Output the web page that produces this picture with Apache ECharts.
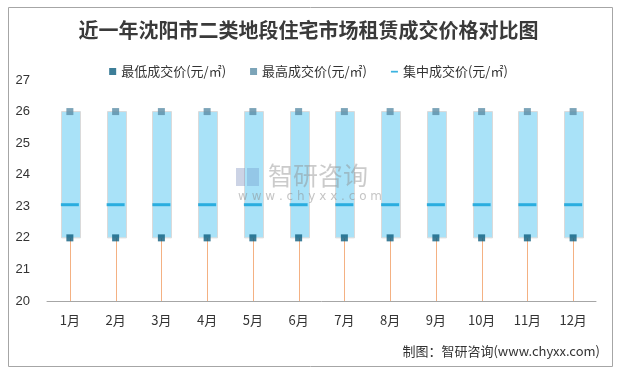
<!DOCTYPE html>
<html><head><meta charset="utf-8">
<script src="https://cdn.jsdelivr.net/npm/echarts@6/dist/echarts.min.js"></script>
<style>html,body{margin:0;padding:0;background:#fff}#c{width:617px;height:370px}</style>
</head><body><div id="c"></div>
<script>
var months = ['1月','2月','3月','4月','5月','6月','7月','8月','9月','10月','11月','12月'];
var minPrice = [22,22,22,22,22,22,22,22,22,22,22,22];
var maxPrice = [26,26,26,26,26,26,26,26,26,26,26,26];
var midPrice = [23.05,23.05,23.05,23.05,23.05,23.05,23.05,23.05,23.05,23.05,23.05,23.05];
var yTicks = [20,21,22,23,24,25,26,27];

var boxData = months.map(function(m,i){return [i, minPrice[i], maxPrice[i]];});
var chart = echarts.init(document.getElementById('c'));
var fontCN = '"Noto Sans CJK SC", "Microsoft YaHei", sans-serif';
chart.setOption({
  backgroundColor:'#fff',
  animation:false,
  title:{text:'近一年沈阳市二类地段住宅市场租赁成交价格对比图',left:'center',top:15,
    textStyle:{fontFamily:fontCN,fontSize:20,fontWeight:'bold',color:'#3a3a3a'}},
  legend:{top:60,left:'center',itemGap:24,itemWidth:7,itemHeight:7,
    textStyle:{fontFamily:fontCN,fontSize:13,color:'#333'},
    data:[{name:'最低成交价(元/㎡)',icon:'rect'},{name:'最高成交价(元/㎡)',icon:'rect'},
      {name:'集中成交价(元/㎡)',icon:'path://M0,0M10,10M0,4L10,4L10,6.5L0,6.5Z'}]},
  grid:{left:47,right:21,top:80,bottom:69},
  xAxis:{type:'category',data:months,
    axisLine:{lineStyle:{color:'#a6a6a6'}},axisTick:{show:false},
    axisLabel:{fontFamily:fontCN,fontSize:13,color:'#333',margin:13}},
  yAxis:{type:'value',min:yTicks[0],max:yTicks[yTicks.length-1],interval:1,
    axisLine:{show:false},axisTick:{show:false},splitLine:{show:false},
    axisLabel:{fontFamily:'"Liberation Sans", Arial, sans-serif',fontSize:13,color:'#333',margin:17}},
  graphic:[
    {type:'rect',left:6,top:5,z:-10,shape:{width:604,height:359},style:{fill:null,stroke:'#a6a6a6',lineWidth:1}},
    {type:'text',right:17,top:345,style:{text:'制图：智研咨询(www.chyxx.com)',fontFamily:'"Noto Sans CJK SC", monospace',fontSize:13,fill:'#333'}},
    {type:'rect',left:236,top:168,z:100,shape:{width:9,height:18},style:{fill:'rgba(110,130,180,0.35)'}},
    {type:'rect',left:247,top:168,z:100,shape:{width:12,height:18},style:{fill:'rgba(110,150,200,0.35)'}},
    {type:'text',left:268,top:163,z:100,style:{text:'智研咨询',fontFamily:fontCN,fontSize:25,fill:'rgba(140,140,140,0.45)'}},
    {type:'text',left:238,top:191,z:100,style:{text:'w w w . c h y x x . c o m',fontFamily:'"DejaVu Sans", sans-serif',fontSize:12,fill:'rgba(140,140,140,0.5)'}}
  ],
  series:[
    {type:'custom',name:'box',silent:true,data:boxData,z:1,
      renderItem:function(params,api){
        var i=api.value(0);
        var pLo=api.coord([i,api.value(1)]);
        var pHi=api.coord([i,api.value(2)]);
        var pBase=api.coord([i,yTicks[0]]);
        var w=19;
        var cx=Math.round(pLo[0]);
        return {type:'group',children:[
          {type:'rect',shape:{x:cx,y:pLo[1],width:1,height:pBase[1]-pLo[1]},style:{fill:'#f4b183'}},
          {type:'rect',shape:{x:Math.round(cx-w/2)+0.5,y:pHi[1],width:w,height:pLo[1]-pHi[1]},style:{fill:'#a9e2f8',stroke:'#dadada',lineWidth:1}}
        ]};
      }},
    {type:'scatter',name:'集中成交价(元/㎡)',data:midPrice,symbol:'rect',symbolSize:[18,3],itemStyle:{color:'#0aa0d8'},z:3},
    {type:'scatter',name:'最低成交价(元/㎡)',data:minPrice,symbol:'rect',symbolSize:7,itemStyle:{color:'#0c5e7e'},z:4},
    {type:'scatter',name:'最高成交价(元/㎡)',data:maxPrice,symbol:'rect',symbolSize:7,itemStyle:{color:'#5b8da6'},z:4}
  ]
});
</script></body></html>
